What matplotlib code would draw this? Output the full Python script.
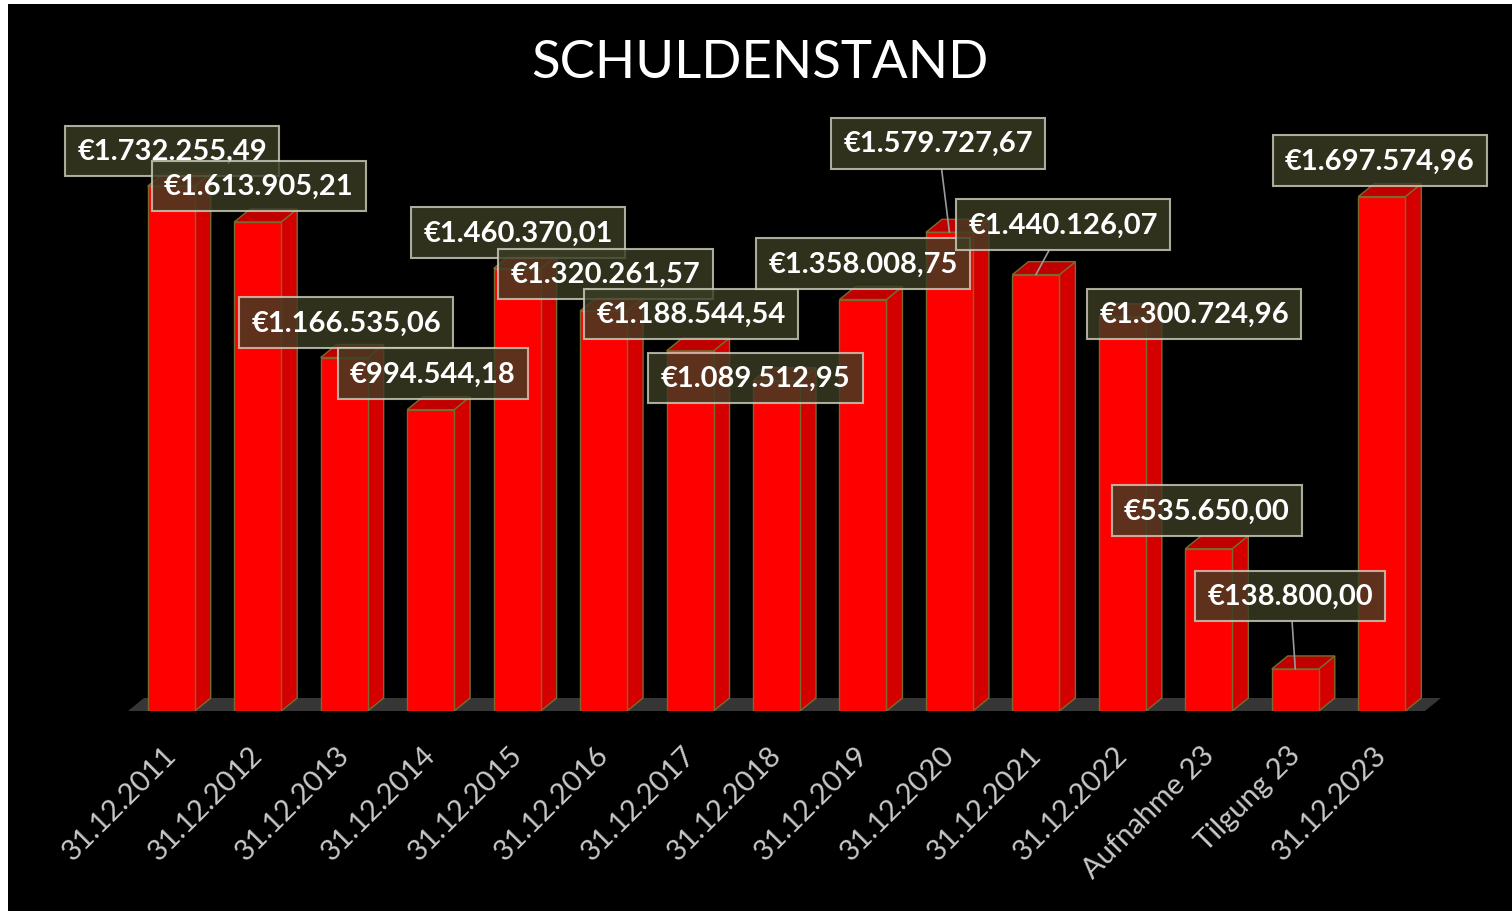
import numpy as np
import matplotlib.pyplot as plt
from matplotlib.patches import Polygon, Rectangle
import matplotlib.transforms as mtransforms

# Schuldenstand je Stichtag (Euro)
kategorien = ['31.12.2011', '31.12.2012', '31.12.2013', '31.12.2014', '31.12.2015',
              '31.12.2016', '31.12.2017', '31.12.2018', '31.12.2019', '31.12.2020',
              '31.12.2021', '31.12.2022', 'Aufnahme 23', 'Tilgung 23', '31.12.2023']
werte = [1732255.49, 1613905.21, 1166535.06, 994544.18, 1460370.01,
         1320261.57, 1188544.54, 1089512.95, 1358008.75, 1579727.67,
         1440126.07, 1300724.96, 535650.00, 138800.00, 1697574.96]
beschriftungen = ['€1.732.255,49', '€1.613.905,21', '€1.166.535,06', '€994.544,18',
                  '€1.460.370,01', '€1.320.261,57', '€1.188.544,54', '€1.089.512,95',
                  '€1.358.008,75', '€1.579.727,67', '€1.440.126,07', '€1.300.724,96',
                  '€535.650,00', '€138.800,00', '€1.697.574,96']

# Verschiebung der Beschriftungen (Pixel) gegenüber der Säulenoberkante
label_dx = [1, 1, 2, 2, 1, 2, 1, -21, 0, -11, 27, 72, -2, -5, -2]
label_dy = [35, 36, 35, 36, 36, 37, 37, 3, 36, 89, 50, 3, 38, 73, 36]
mit_linie = [9, 10, 13]

W, H, DPI = 1512, 912, 100
fig = plt.figure(figsize=(W / DPI, H / DPI), dpi=DPI, facecolor='white')
# schwarzer Hintergrund mit schmalem weißen Rand oben/links
fig.patches.append(Rectangle((8 / W, 0), 1 - 8 / W, 1 - 5 / H, transform=fig.transFigure,
                             facecolor='black', edgecolor='none', zorder=-1))

ax_l, ax_r, ax_b, ax_t = 128, 1425, 712, 100
ax = fig.add_axes([ax_l / W, (H - ax_b) / H, (ax_r - ax_l) / W, (ax_b - ax_t) / H])
ax.set_facecolor('none')
ymax = (ax_b - ax_t) / 303 * 1e6
ax.set_xlim(-0.5, len(werte) - 0.5)
ax.set_ylim(0, ymax)
for s in ax.spines.values():
    s.set_visible(False)
ax.set_yticks([])

# Umrechnung Pixel -> Daten für die Tiefe
px_x = (len(werte)) / (ax_r - ax_l)
px_y = ymax / (ax_b - ax_t)
tiefe_x, tiefe_y = 16 * px_x, 13 * px_y
breite = 47 * px_x

x = np.arange(len(werte))

# Boden
boden = Polygon([(-0.5, 0), (len(werte) - 0.5, 0),
                 (len(werte) - 0.5 + tiefe_x, tiefe_y), (-0.5 + tiefe_x, tiefe_y)],
                closed=True, facecolor='#363636', edgecolor='none', zorder=1, clip_on=False)
ax.add_patch(boden)

kante = '#7a6a30'
for i, v in enumerate(werte):
    x0 = i - breite / 2
    x1 = i + breite / 2
    seite = Polygon([(x1, 0), (x1 + tiefe_x, tiefe_y), (x1 + tiefe_x, v + tiefe_y), (x1, v)],
                    closed=True, facecolor='#d40000', edgecolor=kante, lw=1, zorder=2)
    oben = Polygon([(x0, v), (x1, v), (x1 + tiefe_x, v + tiefe_y), (x0 + tiefe_x, v + tiefe_y)],
                   closed=True, facecolor='#c00000', edgecolor=kante, lw=1, zorder=2)
    ax.add_patch(seite)
    ax.add_patch(oben)
ax.bar(x, werte, width=breite, color='#ff0000', edgecolor=kante, linewidth=1, zorder=3)

# Wertbeschriftungen
for i, v in enumerate(werte):
    pfeil = None
    if i in mit_linie:
        pfeil = dict(arrowstyle='-', color='#9a9a9a', lw=1.2, shrinkA=0, shrinkB=0)
    ax.annotate(beschriftungen[i], xy=(i, v), xytext=(label_dx[i], label_dy[i]),
                textcoords='offset pixels', ha='center', va='center',
                fontsize=21, fontweight='bold', family='Lato', color='white',
                bbox=dict(boxstyle='square,pad=0.42', facecolor='#3a3d24', alpha=0.82,
                          edgecolor='#cdcdbc', linewidth=1.5),
                arrowprops=pfeil, zorder=5, annotation_clip=False)

# Kategorien schräg unter dem Boden
ax.set_xticks(x)
ax.set_xticklabels(kategorien, rotation=45, ha='right', va='center',
                   rotation_mode='anchor', fontsize=21, family='Lato', color='#c8c8c8')
ax.tick_params(axis='x', length=0, pad=0)
versatz = mtransforms.ScaledTranslation(1 / DPI, -39 / DPI, fig.dpi_scale_trans)
for lbl in ax.get_xticklabels():
    lbl.set_transform(lbl.get_transform() + versatz)

fig.text(760 / W, 1 - 63 / H, 'SCHULDENSTAND', ha='center', va='center',
         fontsize=38, family='Lato', color='white')

fig.savefig('out.png', dpi=DPI, facecolor=fig.get_facecolor())
